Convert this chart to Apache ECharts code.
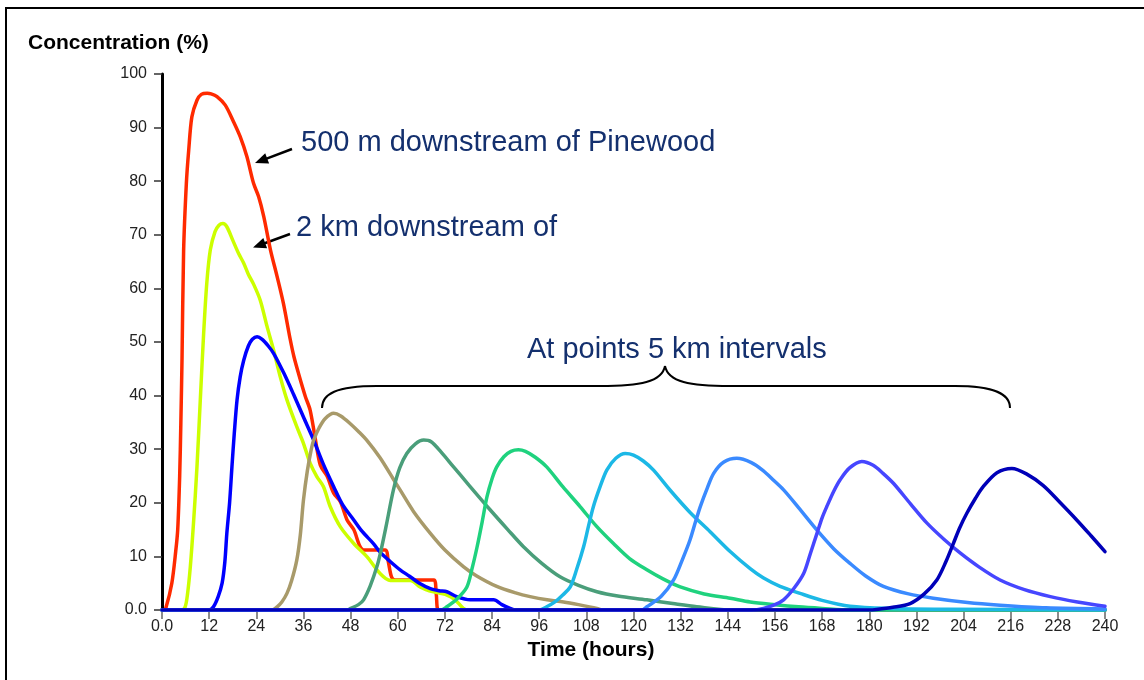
<!DOCTYPE html>
<html><head><meta charset="utf-8">
<script src="https://cdn.jsdelivr.net/npm/echarts@6/dist/echarts.min.js"></script>
<style>html,body{margin:0;padding:0;background:#fff}#c{width:1144px;height:680px}</style>
</head><body><div id="c"></div>
<script>
// ---- data: [time (hours), concentration (%)] ----
const seriesNames = ['500 m downstream of Pinewood','2 km downstream of Pinewood','5 km','10 km','15 km','20 km','25 km','30 km','35 km','40 km'];
const seriesColors = ['#ff2a00','#ccff00','#0000ff','#a89a6a','#4a9e7a','#1fd27e','#1cb8e6','#3a8aff','#4646ff','#0000b8'];

const c500m = [[0,0],[0.5,0],[1,0.4],[2.5,5],[3.5,11],[4,15],[4.5,25],[4.8,35],[5.1,47],[5.5,67],[6.2,79.6],[6.8,85.8],[7.6,92],[8.9,95.1],[10,96.2],[11.5,96.4],[12.5,96.3],[14,95.8],[16.1,94.2],[18.2,91.1],[19.9,88.3],[21.6,84.6],[23.3,79.6],[24.6,77.1],[25.9,73.4],[27.6,67.2],[29.3,62.2],[30.9,57.2],[32.6,50.6],[33.6,47.2],[34.8,44],[36.5,39.8],[37.7,37.3],[39,32],[40.3,27],[42,25],[43.7,21.8],[45.4,20.2],[47.1,16.8],[48.8,15],[50.3,12],[51.3,11.2],[56.8,11.2],[57.6,9],[58.4,6.2],[59.3,5.6],[69.2,5.6],[69.8,3],[70.4,0],[240,0]];
const c2km = [[0,0],[5,0],[5.9,0.6],[6.5,3],[7.2,8],[8,16],[8.9,26.7],[9.8,40],[10.6,51.6],[11.4,61],[12.3,67.2],[13.5,70.6],[14.5,71.8],[15.5,72.1],[16.5,71.5],[18,69],[19.5,66.5],[20.8,64.7],[22,62.6],[23.3,60.8],[25,57.8],[26.7,53],[28.4,48.5],[30.1,43.5],[31.8,39.2],[34.3,34.2],[36,31.1],[37.7,27.4],[39.4,24.9],[41.1,23],[42.8,19.3],[45.4,15.5],[48.8,12.4],[52.2,9.9],[55.5,6.8],[58.1,5.5],[63.2,5.5],[65.7,4.3],[68,3.6],[72.5,2.8],[74.6,1.9],[76.7,0.3],[78,0],[240,0]];
const c5km = [[0,0],[12,0],[13.1,0.6],[14.3,2.5],[15.3,5],[16,9],[16.5,14.3],[17.2,20],[17.8,26.7],[18.4,33],[19.1,39.2],[19.9,43.5],[20.8,46.6],[22,49.3],[23,50.5],[24.2,51],[25.5,50.5],[27,49.3],[28.4,47.9],[31,44.2],[33.5,40.2],[36,36],[38.6,31.7],[41,27.3],[43.7,23],[46,19.6],[48.8,16.8],[51,14.6],[53.8,12.4],[55.5,10.8],[58,9.1],[60.6,7.5],[63,6.3],[65.5,5],[68.3,4],[70.5,3.6],[72.5,3.4],[75,2.5],[78.4,1.9],[84.4,1.9],[86.5,1],[88.6,0.3],[90,0],[240,0]];
const c10km = [[0,0],[28,0],[29.3,0.6],[30.5,1.5],[31.8,3.1],[33,5.5],[34.3,9.3],[35.2,14],[36,20.5],[37,26],[38,30],[38.6,31.7],[40,34],[41.5,35.7],[43.7,36.7],[45.5,36.2],[48,34.7],[50,33.3],[52.2,31.6],[55.5,28.4],[58.9,24.4],[60.6,22.4],[64,18.4],[68.3,14.3],[72,11.2],[76.7,8.1],[80,6.4],[85.2,4.4],[90,3.2],[93.7,2.5],[98,1.9],[102.2,1.5],[106,1],[110.7,0.3],[112,0],[240,0]];
const c15km = [[0,0],[47,0],[48,0.3],[50,1],[51.3,1.9],[53,4.5],[54.7,8.1],[55.7,11],[57,15.5],[58.9,22.4],[60.5,26.5],[62.3,29.2],[64.5,31],[66.6,31.7],[68.5,31.4],[71,29.5],[74.2,26.7],[78,23.4],[83.5,18.7],[88,15],[92,11.8],[96.5,8.8],[101.3,6.2],[106,4.6],[110.7,3.4],[116,2.6],[123.4,1.9],[130,1.2],[136.1,0.6],[145,0],[240,0]];
const c20km = [[0,0],[71,0],[72.5,0.6],[75,2],[77.6,4.3],[79,8],[80.2,11.8],[81.5,16.5],[82.7,21.1],[84,24.5],[85.2,26.7],[87,28.6],[88.8,29.6],[90.7,29.9],[92.5,29.6],[95,28.5],[97.9,26.7],[102,23],[106.4,19.3],[110.5,15.7],[114.9,12.4],[119,9.6],[123.4,7.5],[127.5,5.8],[131.9,4.3],[138,3],[144.6,2.2],[149.7,1.5],[156,1],[162,0.6],[168,0.3],[175,0],[240,0]];
const c25km = [[0,0],[96,0],[97.9,0.6],[100,1.5],[102,2.8],[103.9,4.3],[105.5,7.5],[107.3,11.8],[108.5,15.5],[109.8,19.3],[111.5,23],[113.2,26.1],[115.5,28.3],[117.9,29.2],[120,28.9],[122.5,27.8],[125.1,26.1],[129.5,22.2],[134.4,18.2],[139.5,14.6],[144.6,10.9],[149.7,7.7],[153,6],[157.3,4.4],[162.4,3.1],[168,1.8],[175.1,0.7],[185,0.3],[200,0.15],[240,0]];
const c30km = [[0,0],[122,0],[123.4,0.6],[127,2.5],[130.2,5.6],[132.5,9.5],[134.4,13.1],[135.8,16.5],[137,19.3],[138.8,22.8],[140.4,25.5],[143,27.6],[146.3,28.3],[150,27.5],[153,26],[155.5,24.3],[158.2,22.4],[162,19.1],[166.7,14.9],[171,11.4],[175.1,8.7],[179,6.4],[183.6,4.4],[190,3],[196.3,2.2],[205,1.4],[213.3,0.9],[225,0.4],[240,0.2]];
const c35km = [[0,0],[150,0],[153.1,0.3],[156,1],[158.2,1.9],[160.8,4],[163.3,6.8],[165,10.5],[166.7,14.3],[168,17.2],[169.2,19.3],[171,22.2],[172.6,24.3],[175,26.5],[178.1,27.7],[181,27],[183.5,25.5],[186.2,23.6],[190.5,19.8],[194.7,16.2],[199,13.2],[203.2,10.6],[208,8],[213.3,5.6],[219.5,3.8],[226.1,2.5],[233,1.5],[240,0.7]];
const c40km = [[0,0],[180,0],[181.9,0.1],[186,0.5],[190.4,1.2],[194,3],[197.2,5.6],[199.5,9],[201.4,12.4],[203,15.3],[204.8,18],[207,20.8],[209,23],[212.5,25.6],[216.3,26.4],[220,25.4],[224.3,23.2],[228.5,20.1],[232.8,16.8],[236.5,13.8],[240,10.9]];

const xTickLabels = ['0.0','12','24','36','48','60','72','84','96','108','120','132','144','156','168','180','192','204','216','228','240'];
const yTickLabels = ['0.0','10','20','30','40','50','60','70','80','90','100'];

const xAxisTitle = 'Time (hours)';
const yAxisTitle = 'Concentration (%)';
const note500m = '500 m downstream of Pinewood';
const note2km = '2 km downstream of';
const note5km = 'At points 5 km intervals';

const allSeries = [c500m,c2km,c5km,c10km,c15km,c20km,c25km,c30km,c35km,c40km];

const FONT = '"Liberation Sans", Arial, Helvetica, sans-serif';
const NAVY = '#14306e';

function arrow(x1,y1,x2,y2){
  const dx=x2-x1, dy=y2-y1, L=Math.hypot(dx,dy), ux=dx/L, uy=dy/L;
  const hl=13, hw=5.5;
  const bx=x2-ux*hl, by=y2-uy*hl;
  return [
    {type:'line', shape:{x1:x1,y1:y1,x2:bx+ux*2,y2:by+uy*2}, style:{stroke:'#000',lineWidth:2.5}},
    {type:'polygon', shape:{points:[[x2,y2],[bx-uy*hw,by+ux*hw],[bx+uy*hw,by-ux*hw]]}, style:{fill:'#000'}}
  ];
}
function bez(x1,y1,c1x,c1y,c2x,c2y,x2,y2){
  return {type:'bezierCurve', shape:{x1:x1,y1:y1,cpx1:c1x,cpy1:c1y,cpx2:c2x,cpy2:c2y,x2:x2,y2:y2}, style:{fill:null,stroke:'#000',lineWidth:2}};
}
function seg(x1,y1,x2,y2){
  return {type:'line', shape:{x1:x1,y1:y1,x2:x2,y2:y2}, style:{stroke:'#000',lineWidth:2}};
}

const chart = echarts.init(document.getElementById('c'), null, {renderer:'canvas'});
chart.setOption({
  animation:false,
  backgroundColor:'#fff',
  grid:{left:162, right:39, top:74, bottom:70},
  xAxis:{
    type:'value', min:0, max:240, interval:12,
    axisLine:{show:true, lineStyle:{color:'#777', width:1.5}},
    axisTick:{show:true, length:9, lineStyle:{color:'#666', width:1.5}},
    axisLabel:{margin:9, color:'#222', fontSize:16, fontFamily:FONT,
      formatter:v=>xTickLabels[Math.round(v/12)]},
    splitLine:{show:false}
  },
  yAxis:{
    type:'value', min:0, max:100, interval:10,
    axisLine:{show:true, lineStyle:{color:'#000', width:3}},
    axisTick:{show:true, length:8, lineStyle:{color:'#333', width:1.5}},
    axisLabel:{margin:15, color:'#222', fontSize:16, fontFamily:FONT,
      formatter:v=>yTickLabels[Math.round(v/10)]},
    splitLine:{show:false}
  },
  series: allSeries.map((d,i)=>({
    name:seriesNames[i], type:'line', data:d, showSymbol:false, symbol:'none',
    smooth:0.3,
    lineStyle:{color:seriesColors[i], width:3.5, join:'round', cap:'round'},
    z:2+i
  })),
  graphic:[
    {type:'rect', shape:{x:6,y:8,width:1300,height:900}, style:{fill:null, stroke:'#000', lineWidth:2}, z:0, silent:true},
    {type:'text', x:28, y:43, style:{text:yAxisTitle, font:'bold 21px '+FONT, fill:'#000', verticalAlign:'middle'}},
    {type:'text', x:591, y:650, style:{text:xAxisTitle, font:'bold 21px '+FONT, fill:'#000', align:'center', verticalAlign:'middle'}},
    {type:'text', x:301, y:143, style:{text:note500m, font:'29px '+FONT, fill:NAVY, verticalAlign:'middle'}},
    {type:'text', x:296, y:227.5, style:{text:note2km, font:'29px '+FONT, fill:NAVY, verticalAlign:'middle'}},
    {type:'text', x:527, y:349.5, style:{text:note5km, font:'29px '+FONT, fill:NAVY, verticalAlign:'middle'}},
    ...arrow(292,149,255,163),
    ...arrow(290,234,253,247.5),
    bez(322,408,322,394,336,386,377,386),
    seg(377,386,600,386),
    bez(600,386,640,386,662,382,665,366),
    bez(665,366,668,382,690,386,730,386),
    seg(730,386,955,386),
    bez(955,386,995,386,1010,394,1010,408)
  ]
});
</script>
</body></html>
